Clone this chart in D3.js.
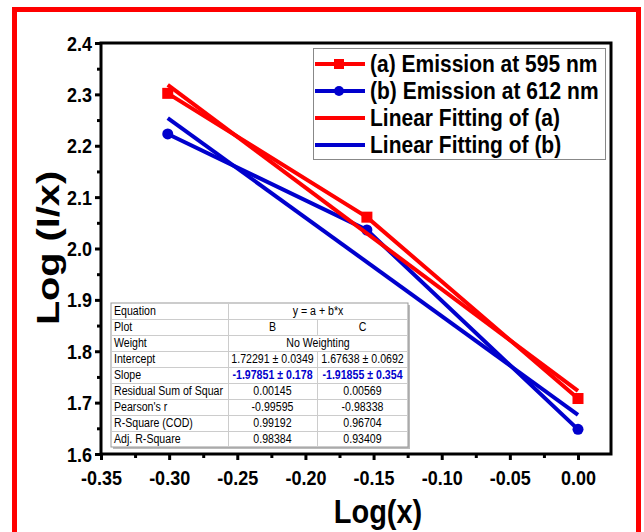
<!DOCTYPE html>
<html><head><meta charset="utf-8">
<script src="https://cdn.jsdelivr.net/npm/d3@7"></script>
<style>
html,body{margin:0;padding:0;background:#fff;}
svg{display:block;font-family:"Liberation Sans",Arial,sans-serif;}
</style></head>
<body>
<svg id="c" width="644" height="532"></svg>
<script>
const logX = [-0.30103, -0.15490, 0.0];
const seriesA = [2.302, 2.061, 1.708];
const seriesB = [2.223, 2.036, 1.648];
const fitA = {a: 1.72291, b: -1.97851};
const fitB = {a: 1.67638, b: -1.91855};
const xTicks = [-0.35, -0.30, -0.25, -0.20, -0.15, -0.10, -0.05, 0.00];
const yTicks = [1.6, 1.7, 1.8, 1.9, 2.0, 2.1, 2.2, 2.3, 2.4];
const legendLabels = ["(a) Emission at 595 nm", "(b) Emission at 612 nm", "Linear Fitting of (a)", "Linear Fitting of (b)"];
const tableRows = [
  ["Equation", "y = a + b*x", null],
  ["Plot", "B", "C"],
  ["Weight", "No Weighting", null],
  ["Intercept", "1.72291 ± 0.0349", "1.67638 ± 0.0692"],
  ["Slope", "-1.97851 ± 0.178", "-1.91855 ± 0.354"],
  ["Residual Sum of Squar", "0.00145", "0.00569"],
  ["Pearson's r", "-0.99595", "-0.98338"],
  ["R-Square (COD)", "0.99192", "0.96704"],
  ["Adj. R-Square", "0.98384", "0.93409"]
];

const RED = "#ff0000", BLUE = "#0000cd";
const SY = 1.12;
const svg = d3.select("#c");
svg.append("rect").attr("width",644).attr("height",532).attr("fill","#fff");
svg.append("rect").attr("x",14.5).attr("y",9.5).attr("width",624).attr("height",540)
  .attr("fill","none").attr("stroke",RED).attr("stroke-width",5);

function txt(g, x0, y0, s, size, opts={}) {
  const t = g.append("text").attr("transform",`translate(${x0},${y0}) scale(1,${SY})`)
    .attr("font-size",size).text(s);
  if (opts.anchor) t.attr("text-anchor",opts.anchor);
  if (opts.bold) t.attr("font-weight","bold");
  if (opts.fill) t.attr("fill",opts.fill);
  return t;
}

const L = 101, R = 611, T = 43, B = 454;
const x = d3.scaleLinear().domain([-0.35, 0.025]).range([L, L + (0.375/0.35)*(578-L)]);
const y = d3.scaleLinear().domain([1.6, 2.4]).range([B, T]);
const hy = s => s.replace("\u2212","-");

const xAxis = d3.axisBottom(x).tickValues(xTicks).tickFormat(d => hy(d3.format(".2f")(d))).tickSize(6).tickSizeOuter(0);
const yAxis = d3.axisLeft(y).tickValues(yTicks).tickFormat(d3.format(".1f")).tickSize(6).tickSizeOuter(0);
const xMinor = d3.axisBottom(x).tickValues(d3.range(-0.325, 0.02, 0.05)).tickFormat("").tickSize(4).tickSizeOuter(0);
const yMinor = d3.axisLeft(y).tickValues(d3.range(1.65, 2.4, 0.1)).tickFormat("").tickSize(4).tickSizeOuter(0);

const gx = svg.append("g").attr("transform",`translate(0,${B})`).call(xAxis);
svg.append("g").attr("transform",`translate(0,${B})`).call(xMinor);
const gy = svg.append("g").attr("transform",`translate(${L},0)`).call(yAxis);
svg.append("g").attr("transform",`translate(${L},0)`).call(yMinor);
svg.selectAll(".domain").remove();
svg.selectAll(".tick line").attr("stroke","#000").attr("stroke-width",3);
gx.selectAll("text").attr("font-size",18).attr("font-weight","bold").attr("fill","#000")
  .attr("y",0).attr("dy",0).attr("transform",`translate(0,31) scale(1,${SY})`);
gy.selectAll("text").attr("font-size",18).attr("font-weight","bold").attr("fill","#000")
  .attr("x",-9).attr("dy",0).attr("transform",`translate(0,7) scale(1,${SY})`);

svg.append("rect").attr("x",L).attr("y",T).attr("width",R-L).attr("height",B-T)
  .attr("fill","none").attr("stroke","#000").attr("stroke-width",3);

// titles
txt(svg, 378, 523, "Log(x)", 29, {anchor:"middle", bold:true});
svg.append("text").attr("transform",`translate(59,248) rotate(-90) scale(1.28,1)`).attr("text-anchor","middle")
  .attr("font-size",31).attr("font-weight","bold").text("Log (I/x)");

// fits and data
const fitLine = f => [[logX[0], f.a + f.b*logX[0]], [logX[2], f.a + f.b*logX[2]]];
const line = d3.line().x(d => x(d[0])).y(d => y(d[1]));
svg.append("path").attr("d", line(fitLine(fitB))).attr("stroke",BLUE).attr("stroke-width",4).attr("fill","none");
svg.append("path").attr("d", line(logX.map((v,i)=>[v, seriesB[i]]))).attr("stroke",BLUE).attr("stroke-width",4).attr("fill","none");
svg.selectAll(".mb").data(logX).enter().append("circle")
  .attr("cx", d=>x(d)).attr("cy",(d,i)=>y(seriesB[i])).attr("r",5.5).attr("fill",BLUE);
svg.append("path").attr("d", line(fitLine(fitA))).attr("stroke",RED).attr("stroke-width",4).attr("fill","none");
svg.append("path").attr("d", line(logX.map((v,i)=>[v, seriesA[i]]))).attr("stroke",RED).attr("stroke-width",4).attr("fill","none");
svg.selectAll(".ma").data(logX).enter().append("rect")
  .attr("x", d=>x(d)-5.5).attr("y",(d,i)=>y(seriesA[i])-5.5).attr("width",11).attr("height",11).attr("fill",RED);

// legend
const lg = svg.append("g");
lg.append("rect").attr("x",313.5).attr("y",48.5).attr("width",292).attr("height",111)
  .attr("fill","#fff").attr("stroke","#888").attr("stroke-width",1);
const lColors = [RED, BLUE, RED, BLUE];
legendLabels.forEach((t,i) => {
  const cy = 64 + i*27;
  lg.append("line").attr("x1",315).attr("x2",365).attr("y1",cy).attr("y2",cy)
    .attr("stroke",lColors[i]).attr("stroke-width",4);
  if (i===0) lg.append("rect").attr("x",334).attr("y",cy-5).attr("width",10).attr("height",10).attr("fill",RED);
  if (i===1) lg.append("circle").attr("cx",339).attr("cy",cy).attr("r",5).attr("fill",BLUE);
  txt(lg, 370, cy+8, t, 21, {bold:true});
});

// table
const tg = svg.append("g");
const tx0 = 111, ty0 = 303, rh = 16, c1 = 228, c2 = 317, c3 = 408;
tg.append("rect").attr("x",tx0+2).attr("y",ty0+2).attr("width",c3-tx0).attr("height",rh*tableRows.length).attr("fill","#bbb");
tg.append("rect").attr("x",tx0).attr("y",ty0).attr("width",c3-tx0).attr("height",rh*tableRows.length)
  .attr("fill","#fff").attr("stroke","#999").attr("stroke-width",1);
const FS = 10.6;
tableRows.forEach((r,i) => {
  const yy = ty0 + i*rh;
  if (i>0) tg.append("line").attr("x1",tx0).attr("x2",c3).attr("y1",yy+0.5).attr("y2",yy+0.5).attr("stroke","#ccc");
  tg.append("line").attr("x1",c1+0.5).attr("x2",c1+0.5).attr("y1",yy).attr("y2",yy+rh).attr("stroke","#ccc");
  if (r[2] !== null) tg.append("line").attr("x1",c2+0.5).attr("x2",c2+0.5).attr("y1",yy).attr("y2",yy+rh).attr("stroke","#ccc");
  const isSlope = r[0]==="Slope";
  const o = isSlope ? {anchor:"middle", bold:true, fill:BLUE} : {anchor:"middle"};
  txt(tg, tx0+3, yy+12, r[0], FS);
  if (r[2] === null) {
    txt(tg, (c1+c3)/2, yy+12, r[1], FS, {anchor:"middle"});
  } else {
    txt(tg, (c1+c2)/2, yy+12, r[1], FS, o);
    txt(tg, (c2+c3)/2, yy+12, r[2], FS, o);
  }
});
</script>
</body></html>
